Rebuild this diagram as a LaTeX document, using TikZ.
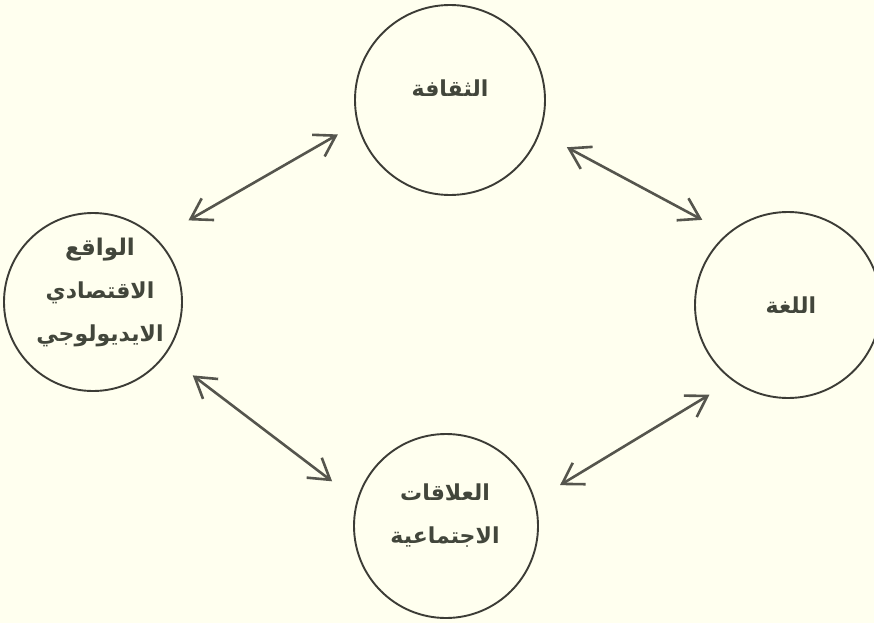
\documentclass[tikz,border=0pt]{standalone}
\usepackage{fontspec}
\usetikzlibrary{arrows.meta}
\newfontfamily\arabicfont[Script=Arabic]{DejaVu Sans}
\TeXXeTstate=1
\definecolor{bg}{HTML}{FFFFEF}
\definecolor{ink}{HTML}{3C3C36}
\definecolor{arrink}{HTML}{55554D}
\definecolor{txtc}{HTML}{42463B}
\begin{document}
\begin{tikzpicture}[x=1pt,y=-1pt,
 circ/.style={circle, draw=ink, line width=1.9pt, inner sep=0pt, outer sep=0pt, minimum size=#1},
 lbl/.style={text=txtc, font=\arabicfont\bfseries\fontsize{22}{43}\selectfont, align=center, inner sep=0pt},
 arr/.style={draw=arrink, line width=2.6pt, {Straight Barb[length=20pt,width=25pt]}-{Straight Barb[length=20pt,width=25pt]}}
]
\useasboundingbox (0,0) rectangle (874,623);
\fill[bg] (0,0) rectangle (874,623);

\node[circ=190pt] (top) at (450,100) {};
\node[circ=178pt] (left) at (93,302) {};
\node[circ=186pt] (right) at (788,305) {};
\node[circ=184pt] (bottom) at (446,526) {};

\node[lbl] (toptx) at (450,88) {\beginR الثقافة\endR};
\node[lbl] (lefttx) at (100,292) {{\fontsize{23}{43}\selectfont\beginR الواقع\endR}\\\beginR الاقتصادي\endR\\\beginR الايديولوجي\endR};
\node[lbl] (righttx) at (791,305) {\beginR اللغة\endR};
\node[lbl] (bottomtx) at (445,516) {\beginR العلاقات\endR\\\beginR الاجتماعية\endR};

\draw[arr, shorten <=23pt, shorten >=37.5pt] (top.194.4) -- (left.45.5);
\draw[arr, shorten <=34.8pt, shorten >=32pt] (left.324.4) -- (bottom.164.6);
\draw[arr, shorten <=31.3pt, shorten >=29.4pt] (top.340.3) -- (right.130.2);
\draw[arr, shorten <=27.9pt, shorten >=29.9pt] (right.234.4) -- (bottom.16.2);
\end{tikzpicture}
\end{document}
